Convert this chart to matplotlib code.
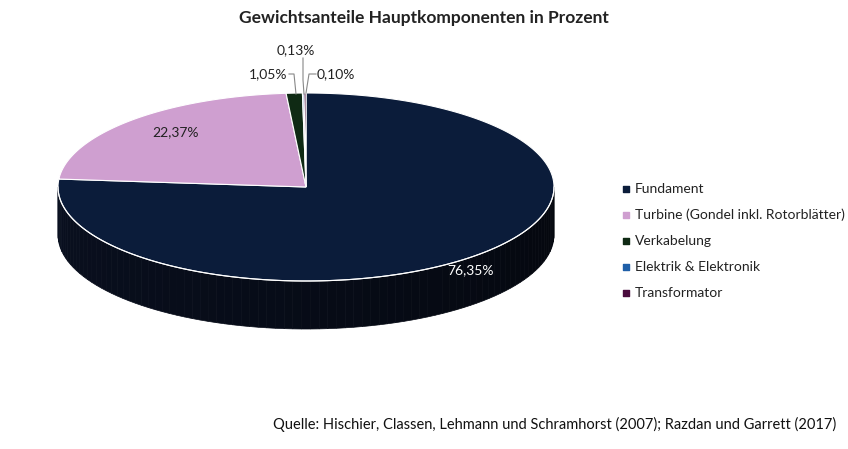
import numpy as np
import matplotlib.pyplot as plt
from matplotlib.patches import Polygon

plt.rcParams['font.family'] = ['Lato', 'DejaVu Sans']

categories = ['Fundament', 'Turbine (Gondel inkl. Rotorblätter)', 'Verkabelung',
              'Elektrik & Elektronik', 'Transformator']
values = [76.35, 22.37, 1.05, 0.10, 0.13]
labels = ['76,35%', '22,37%', '1,05%', '0,10%', '0,13%']
colors = ['#0b1c3a', '#cf9fd0', '#0f2a14', '#1f5fa8', '#4a0c3e']

CX, CY, RX, RY, DEPTH = 306, 187, 248, 94, 48

def pt(theta, dy=0):
    # theta in degrees, clockwise from 12 o'clock
    t = np.radians(theta)
    return CX + RX * np.sin(t), CY - RY * np.cos(t) + dy

fig = plt.figure(figsize=(8.48, 4.49), dpi=100)
ax = fig.add_axes([0, 0, 1, 1])
ax.set_xlim(0, 848)
ax.set_ylim(449, 0)
ax.axis('off')

bounds = np.concatenate([[0], np.cumsum(values) / sum(values) * 360])

# side wall (front half only), drawn in thin strips for a little shading
for i in range(len(values)):
    a0, a1 = max(bounds[i], 90), min(bounds[i + 1], 270)
    if a1 <= a0:
        continue
    steps = np.linspace(a0, a1, 90)
    for s0, s1 in zip(steps[:-1], steps[1:]):
        ts = np.linspace(s0, s1, 4)
        top = [pt(t) for t in ts]
        bot = [pt(t, DEPTH) for t in ts[::-1]]
        shade = 0.35 + 0.45 * (s0 - 90) / 180
        base = np.array([12, 20, 40]) / 255.0
        col = base * shade
        ax.add_patch(Polygon(top + bot, closed=True, fc=col, ec=col, lw=0.5))
edge = [pt(t) for t in np.linspace(90, 270, 100)]
ax.plot([p[0] for p in edge], [p[1] for p in edge], color='white', lw=0.8)

# top face
for i in range(len(values)):
    ts = np.linspace(bounds[i], bounds[i + 1], max(3, int(bounds[i + 1] - bounds[i]) * 2))
    poly = [(CX, CY)] + [pt(t) for t in ts]
    ax.add_patch(Polygon(poly, closed=True, fc=colors[i], ec='white', lw=0.8))

# labels
ax.text(470, 270, labels[0], color='white', fontsize=10, ha='center', va='center')
ax.text(176, 132, labels[1], color='#222222', fontsize=10, ha='center', va='center')
ax.text(268, 74, labels[2], color='#222222', fontsize=10, ha='center', va='center')
ax.text(296, 50, labels[4], color='#222222', fontsize=10, ha='center', va='center')
ax.text(336, 74, labels[3], color='#222222', fontsize=10, ha='center', va='center')
ax.plot([289, 294, 296], [74, 74, 94], color='#888888', lw=0.8)
ax.plot([303, 303, 304], [58, 80, 94], color='#888888', lw=0.8)
ax.plot([316, 309, 306], [74, 74, 93], color='#888888', lw=0.8)

# legend
for i, name in enumerate(categories):
    y = 189 + 26 * i
    ax.scatter(626, y, marker='s', s=16, color=colors[i])
    ax.text(635, y, name, fontsize=10, va='center', color='#222222')

ax.text(424, 18, 'Gewichtsanteile Hauptkomponenten in Prozent', fontsize=12.5,
        fontweight='bold', ha='center', va='center', color='#222222')
ax.text(836, 424, 'Quelle: Hischier, Classen, Lehmann und Schramhorst (2007); Razdan und Garrett (2017)',
        fontsize=10.5, ha='right', va='center', color='#111111')

fig.savefig('out.png', dpi=100)
